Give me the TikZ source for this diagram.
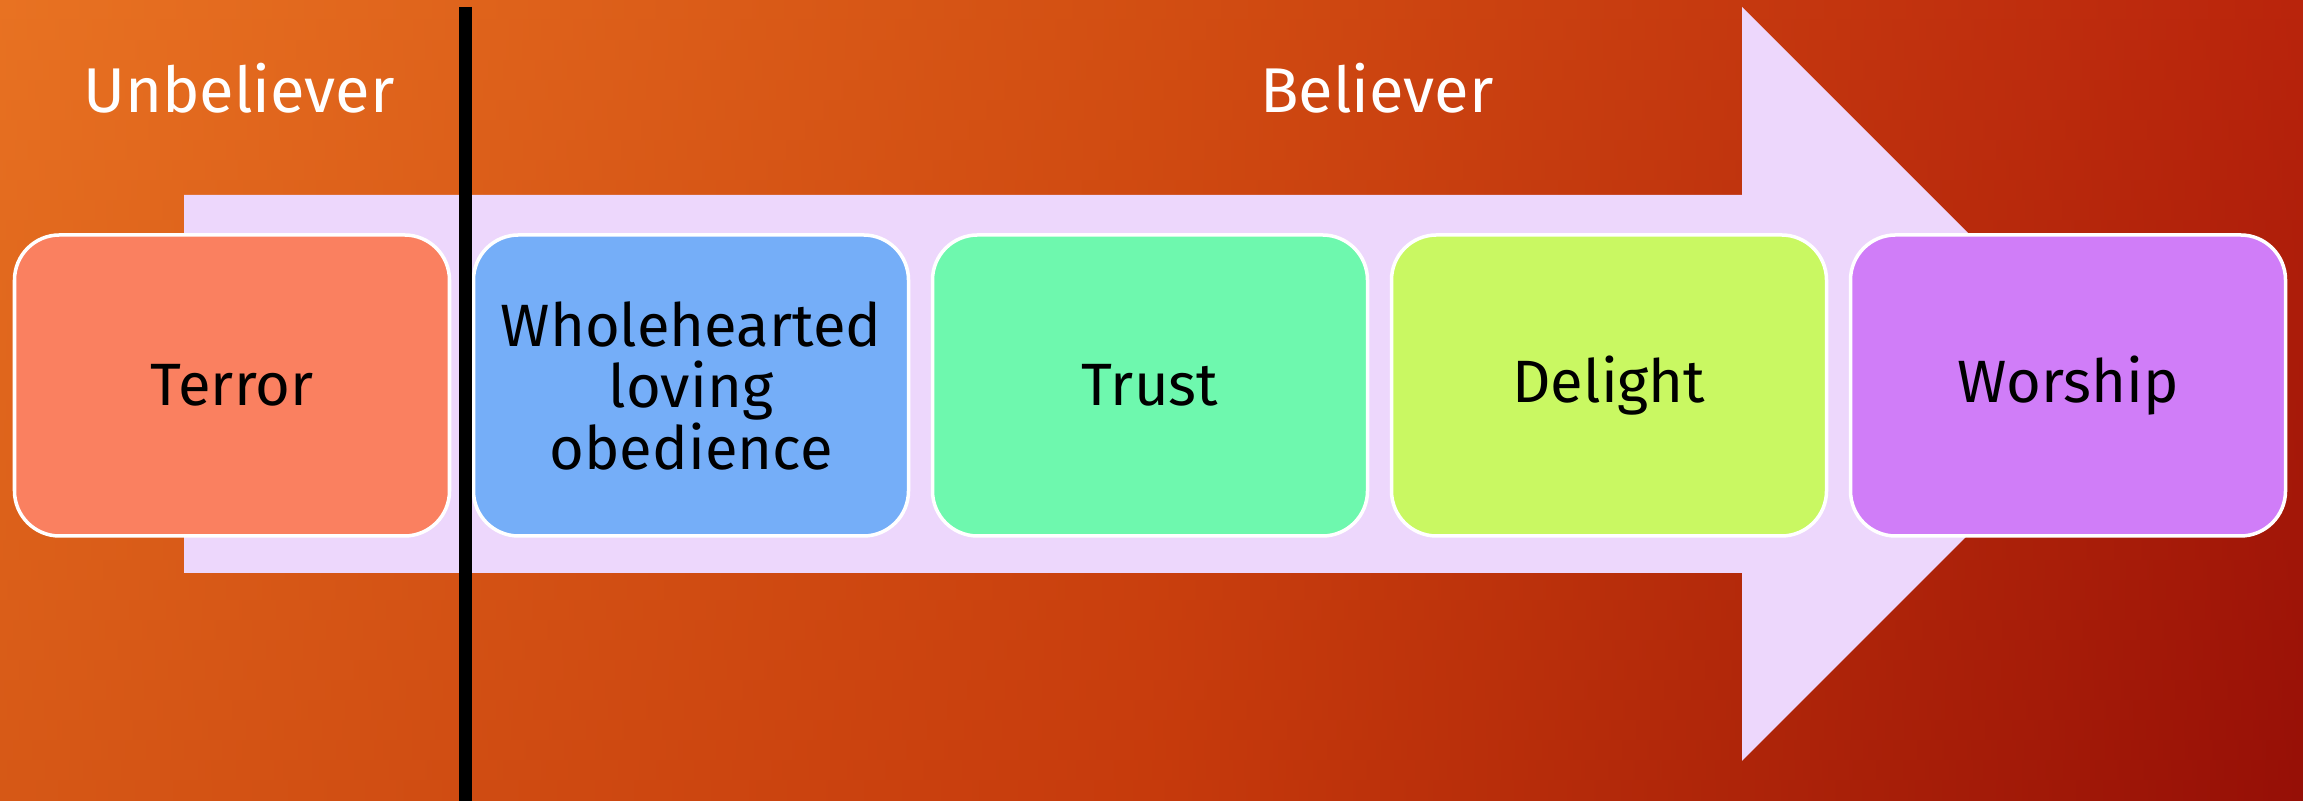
\documentclass[tikz,border=0pt]{standalone}
\usepackage{fontspec}
\setmainfont{Fira Sans}
\usetikzlibrary{positioning}

\definecolor{topleft}{RGB}{232,114,34}
\definecolor{topmid}{RGB}{210,78,18}
\definecolor{topright}{RGB}{185,36,12}
\definecolor{botleft}{RGB}{214,88,22}
\definecolor{botmid}{RGB}{198,58,12}
\definecolor{botright}{RGB}{150,15,6}
\definecolor{arrowfill}{RGB}{237,215,252}
\definecolor{terrorfill}{RGB}{250,128,96}
\definecolor{obeyfill}{RGB}{117,174,248}
\definecolor{trustfill}{RGB}{110,248,174}
\definecolor{delightfill}{RGB}{201,248,98}
\definecolor{worshipfill}{RGB}{208,125,248}

\begin{document}
\begin{tikzpicture}
[
    stage/.style={draw=white, line width=1pt, rounded corners=0.45cm, minimum width=4.35cm, minimum height=3.01cm, inner sep=0pt, outer sep=0pt, align=center, text=black, font=\fontsize{17}{17.5}\selectfont},
    side/.style={text=white, anchor=base, font=\fontsize{18}{20}\selectfont},
    node distance=0.24cm,
]
\useasboundingbox (0,0) rectangle (23.03,8.01);
% background, strip by strip from top to bottom
\foreach \i in {0,...,39} {
    \pgfmathsetmacro{\p}{100-\i*100/39}
    \pgfdeclarehorizontalshading{bgrow\i}{100bp}{color(0bp)=(topleft!\p!botleft); color(25bp)=(topleft!\p!botleft); color(50bp)=(topmid!\p!botmid); color(75bp)=(topright!\p!botright); color(100bp)=(topright!\p!botright)}
    \shade[shading=bgrow\i] (0,{8.01-(\i+1)*0.20025-0.01}) rectangle (23.03,{8.01-\i*0.20025});
}

% big arrow behind the stages
\fill[arrowfill] (1.84,2.28) -- (1.84,6.06) -- (17.42,6.06) -- (17.42,7.94)
    -- (21.19,4.17) -- (17.42,0.40) -- (17.42,2.28) -- cycle;

\node [stage, fill=terrorfill] (terror) at (2.32,4.155) {Terror};
\node [stage, fill=obeyfill, right=of terror] (obey) {Wholehearted\\loving\\obedience};
\node [stage, fill=trustfill, right=of obey] (trust) {Trust};
\node [stage, fill=delightfill, right=of trust] (delight) {Delight};
\node [stage, fill=worshipfill, right=of delight] (worship) {Worship};

% divider
\coordinate (divtop) at (4.65,7.94);
\coordinate (divbot) at (4.65,0);
\draw [line width=0.13cm] (divtop) -- (divbot);

\node [side] (unbeliever) at (2.39,6.88) {Unbeliever};
\node [side] (believer) at (13.77,6.88) {Believer};
\end{tikzpicture}
\end{document}
